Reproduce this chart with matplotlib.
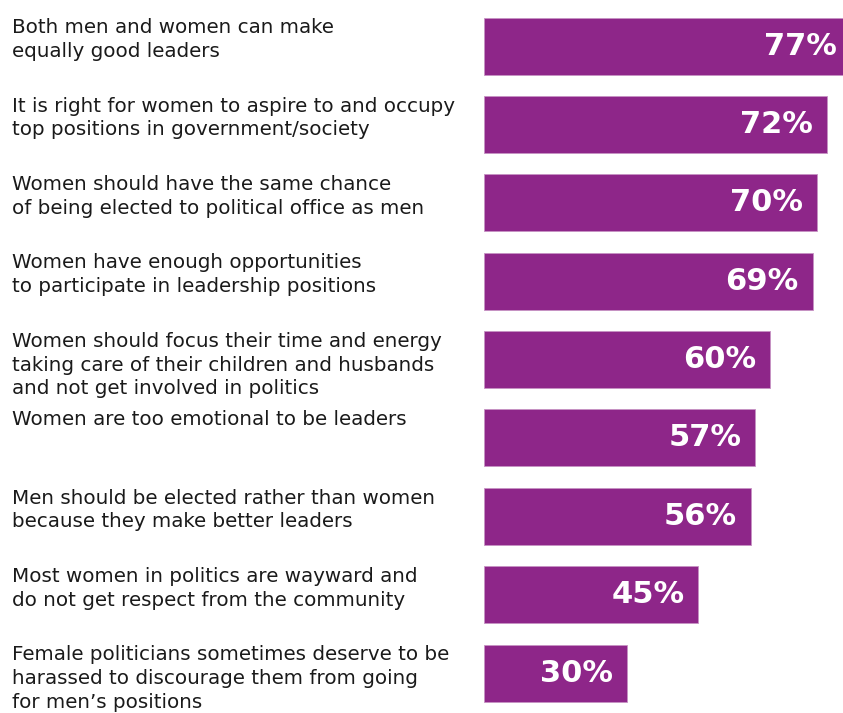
import matplotlib.pyplot as plt
import matplotlib.transforms as mtransforms

statements = [
    "Both men and women can make\nequally good leaders",
    "It is right for women to aspire to and occupy\ntop positions in government/society",
    "Women should have the same chance\nof being elected to political office as men",
    "Women have enough opportunities\nto participate in leadership positions",
    "Women should focus their time and energy\ntaking care of their children and husbands\nand not get involved in politics",
    "Women are too emotional to be leaders",
    "Men should be elected rather than women\nbecause they make better leaders",
    "Most women in politics are wayward and\ndo not get respect from the community",
    "Female politicians sometimes deserve to be\nharassed to discourage them from going\nfor men\u2019s positions",
]
values = [77, 72, 70, 69, 60, 57, 56, 45, 30]

purple = '#8E2689'
bar_h = 0.727

fig = plt.figure(figsize=(8.43, 7.13), dpi=100)
ax = fig.add_axes([484 / 843, 0, 1 - 484 / 843, 1])

y = list(range(len(values)))
ax.barh(y, values, height=bar_h, color=purple, edgecolor='#c792c3', linewidth=0.6)
ax.set_xlim(0, 75.4)
ax.set_ylim(8.508, -0.587)
ax.axis('off')

for i, v in enumerate(values):
    ax.annotate(f"{v}%", xy=(v, i), xytext=(-10, 0), textcoords='offset points',
                ha='right', va='center', color='white', fontsize=22,
                fontweight='bold', family='DejaVu Sans', annotation_clip=False)

trans = mtransforms.blended_transform_factory(fig.transFigure, ax.transData)
for i, s in enumerate(statements):
    ax.text(12 / 843, i - bar_h / 2 + 0.01, s, transform=trans, ha='left', va='top',
            fontsize=14.3, color='#1a1a1a', linespacing=1.32, family='DejaVu Sans',
            clip_on=False)

fig.savefig('out.png', dpi=100)
